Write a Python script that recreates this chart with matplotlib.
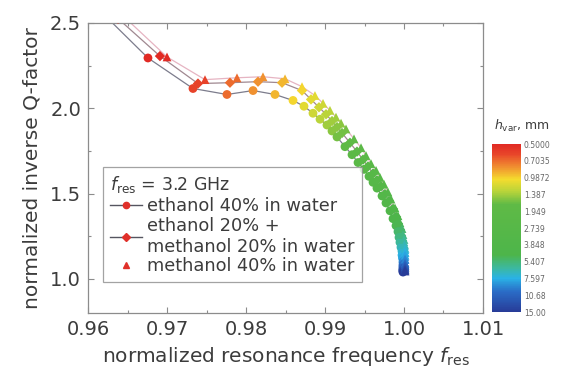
import numpy as np
import matplotlib
matplotlib.use("Agg")
import matplotlib.pyplot as plt
from matplotlib.colors import LinearSegmentedColormap, LogNorm
from matplotlib.lines import Line2D
from matplotlib.ticker import MultipleLocator

# ---------------- data ----------------
h_var = [0.4, 0.5, 0.6, 0.7, 0.8, 0.9, 1.0, 1.1, 1.2, 1.3, 1.4, 1.5, 1.6, 1.8, 2.0,
         2.2, 2.4, 2.6, 2.8, 3.0, 3.3, 3.6, 4.0, 4.4, 4.8, 5.2, 5.6, 6.0, 6.5, 7.0,
         7.5, 8.0, 9.0, 10.0, 11.0, 12.0, 13.0, 14.0, 15.0]

ethanol_x = [0.96253, 0.96759, 0.97329, 0.97759, 0.98089, 0.98367, 0.98595, 0.98734,
             0.98848, 0.98937, 0.99025, 0.99089, 0.99152, 0.99253, 0.99342, 0.99418,
             0.99494, 0.99557, 0.99608, 0.99658, 0.99722, 0.99772, 0.99823, 0.99861,
             0.99899, 0.99924, 0.99937, 0.99949, 0.99962, 0.99975, 0.99975, 0.99981,
             0.99987, 0.99987, 0.99987, 0.99987, 0.99987, 0.99987, 0.99987]
ethanol_y = [2.526, 2.295, 2.116, 2.081, 2.104, 2.081, 2.046, 2.012, 1.971, 1.936,
             1.902, 1.867, 1.832, 1.775, 1.728, 1.682, 1.642, 1.601, 1.566, 1.532,
             1.486, 1.445, 1.399, 1.353, 1.312, 1.277, 1.243, 1.214, 1.185, 1.162,
             1.139, 1.121, 1.098, 1.081, 1.069, 1.058, 1.052, 1.046, 1.040]

mix_x = [0.96380, 0.96911, 0.97392, 0.97797, 0.98152, 0.98456, 0.98709, 0.98823,
         0.98924, 0.99013, 0.99089, 0.99152, 0.99215, 0.99316, 0.99405, 0.99481,
         0.99544, 0.99608, 0.99658, 0.99709, 0.99759, 0.99810, 0.99861, 0.99899,
         0.99924, 0.99949, 0.99962, 0.99975, 0.99987, 0.99994, 1.00000, 1.00000,
         1.00000, 1.00000, 1.00000, 1.00000, 1.00000, 1.00000, 1.00000]
mix_y = [2.526, 2.306, 2.145, 2.150, 2.156, 2.150, 2.104, 2.052, 2.006, 1.965,
         1.925, 1.890, 1.855, 1.798, 1.746, 1.699, 1.659, 1.618, 1.578, 1.543,
         1.497, 1.457, 1.410, 1.364, 1.324, 1.289, 1.254, 1.225, 1.197, 1.173,
         1.150, 1.133, 1.110, 1.092, 1.075, 1.064, 1.058, 1.052, 1.046]

methanol_x = [0.96481, 0.97000, 0.97481, 0.97886, 0.98215, 0.98494, 0.98709, 0.98873,
              0.98975, 0.99063, 0.99139, 0.99203, 0.99266, 0.99367, 0.99456, 0.99519,
              0.99582, 0.99646, 0.99696, 0.99747, 0.99797, 0.99835, 0.99886, 0.99924,
              0.99949, 0.99975, 0.99987, 1.00000, 1.00006, 1.00013, 1.00013, 1.00013,
              1.00013, 1.00013, 1.00013, 1.00013, 1.00013, 1.00013, 1.00013]
methanol_y = [2.526, 2.301, 2.168, 2.179, 2.185, 2.173, 2.127, 2.075, 2.029, 1.988,
              1.948, 1.913, 1.879, 1.821, 1.769, 1.723, 1.676, 1.636, 1.595, 1.555,
              1.509, 1.468, 1.416, 1.370, 1.329, 1.295, 1.260, 1.231, 1.202, 1.179,
              1.156, 1.139, 1.116, 1.092, 1.081, 1.069, 1.058, 1.052, 1.046]

series_labels = ["ethanol 40% in water",
                 "ethanol 20% +\nmethanol 20% in water",
                 "methanol 40% in water"]
cbar_ticks = [0.5, 0.7035, 0.9872, 1.387, 1.949, 2.739, 3.848, 5.407, 7.597, 10.68, 15.0]
cbar_ticklabels = ["0.5000", "0.7035", "0.9872", "1.387", "1.949", "2.739",
                   "3.848", "5.407", "7.597", "10.68", "15.00"]
x_ticks = [0.96, 0.97, 0.98, 0.99, 1.00, 1.01]
y_ticks = [1.0, 1.5, 2.0, 2.5]

# ---------------- style ----------------
plt.rcParams['font.family'] = ['DejaVu Sans']
plt.rcParams['mathtext.fontset'] = 'dejavusans'
txt = '#3c3c3c'
spine_c = '#8c8c8c'

cmap = LinearSegmentedColormap.from_list('hvar', [
    (0.00, '#e12a24'), (0.06, '#e8462a'), (0.13, '#f08a30'), (0.21, '#f4dc2e'),
    (0.28, '#b9d43a'), (0.36, '#5fba46'), (0.66, '#4db54a'), (0.74, '#3cb8a0'),
    (0.80, '#2ab2e6'), (0.88, '#2a6cc6'), (1.00, '#283c98')])
norm = LogNorm(vmin=0.5, vmax=15.0)

fig = plt.figure(figsize=(5.64, 3.76), dpi=100)
ax = fig.add_axes([88/564, (376-313)/376, 395/564, 290/376])

line_cols = ['#7c7c8c', '#a08890', '#e6b4c2']
markers = ['o', 'D', '^']
msizes = [40, 28, 40]
data = [(ethanol_x, ethanol_y), (mix_x, mix_y), (methanol_x, methanol_y)]
for (xs, ys), lc in zip(data, line_cols):
    ax.plot(xs, ys, '-', color=lc, lw=0.9, zorder=2)
for (xs, ys), mk, ms in zip(data, markers, msizes):
    ax.scatter(xs, ys, c=h_var, cmap=cmap, norm=norm, marker=mk, s=ms,
               edgecolors='none', zorder=3)

ax.set_xlim(0.96, 1.01)
ax.set_ylim(0.8, 2.5)
ax.set_xticks(x_ticks)
ax.set_xticklabels(["%.2f" % v for v in x_ticks])
ax.set_yticks(y_ticks)
ax.set_yticklabels(["%.1f" % v for v in y_ticks])
ax.xaxis.set_minor_locator(MultipleLocator(0.005))
ax.yaxis.set_minor_locator(MultipleLocator(0.25))
ax.tick_params(which='both', direction='in', top=True, right=True,
               color=spine_c, width=0.8, labelsize=14, labelcolor=txt)
ax.tick_params(which='major', length=4, pad=5)
ax.tick_params(which='minor', length=2.5)
for s in ax.spines.values():
    s.set_color(spine_c)
    s.set_linewidth(0.9)
ax.set_xlabel(r"normalized resonance frequency $f_{\rm res}$", fontsize=14.5,
              color=txt, labelpad=4)
ax.set_ylabel("normalized inverse Q-factor", fontsize=14.5, color=txt, labelpad=6)

# legend
red = '#e0302a'
handles = [
    Line2D([], [], color='#555560', lw=1.0, marker='o', markersize=4.5,
           markerfacecolor=red, markeredgecolor=red),
    Line2D([], [], color='#555560', lw=1.0, marker='D', markersize=4,
           markerfacecolor=red, markeredgecolor=red),
    Line2D([], [], lw=0, marker='^', markersize=4.5,
           markerfacecolor=red, markeredgecolor=red),
]
leg = ax.legend(handles, series_labels, loc='upper left',
                bbox_to_anchor=(0.038, 0.503), borderaxespad=0,
                title=r"$f_{\rm res}$ = 3.2 GHz", title_fontsize=12.5,
                fontsize=12.8, frameon=True, fancybox=False, handlelength=1.8,
                handletextpad=0.3, labelspacing=0.1, borderpad=0.4,
                alignment='left')
leg.get_frame().set_edgecolor(spine_c)
leg.get_frame().set_linewidth(0.9)
for t in leg.get_texts():
    t.set_color(txt)
leg.get_title().set_color(txt)

# colorbar
cax = fig.add_axes([492/564, (376-312)/376, 29/564, 168/376])
sm = matplotlib.cm.ScalarMappable(norm=norm, cmap=cmap)
cb = fig.colorbar(sm, cax=cax)
cb.outline.set_visible(False)
cb.ax.minorticks_off()
cb.set_ticks(cbar_ticks)
cb.set_ticklabels(cbar_ticklabels)
cb.ax.tick_params(length=0, labelsize=5.5, labelcolor='#666666', pad=2)
cb.ax.invert_yaxis()
fig.text(522/564, (376-126)/376, r"$h_{\rm var}$, mm", fontsize=9, color=txt,
         ha='center', va='center')

fig.savefig("out.png", dpi=100)
